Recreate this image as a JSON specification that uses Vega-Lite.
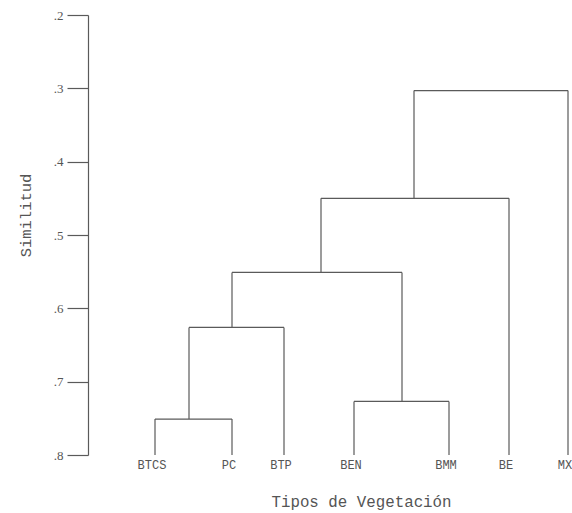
{
  "$schema": "https://vega.github.io/schema/vega-lite/v6.json",
  "width": 484,
  "height": 440,
  "autosize": {"type": "none"},
  "padding": {"left": 88, "top": 15, "right": 0, "bottom": 58},
  "background": "white",
  "config": {"view": {"stroke": null}},
  "datasets": {
    "nodes": [
      {"xl": 67, "hl": 0.8, "xr": 144, "hr": 0.8, "h": 0.751},
      {"xl": 266, "hl": 0.8, "xr": 361, "hr": 0.8, "h": 0.727},
      {"xl": 101, "hl": 0.751, "xr": 196, "hr": 0.8, "h": 0.626},
      {"xl": 144, "hl": 0.626, "xr": 314, "hr": 0.727, "h": 0.551},
      {"xl": 233, "hl": 0.551, "xr": 421, "hr": 0.8, "h": 0.45},
      {"xl": 326, "hl": 0.45, "xr": 480, "hr": 0.8, "h": 0.303}
    ],
    "leaves": [
      {"name": "BTCS", "x": 67, "h": 0.8},
      {"name": "PC", "x": 144, "h": 0.8},
      {"name": "BTP", "x": 196, "h": 0.8},
      {"name": "BEN", "x": 266, "h": 0.8},
      {"name": "BMM", "x": 361, "h": 0.8},
      {"name": "BE", "x": 421, "h": 0.8},
      {"name": "MX", "x": 480, "h": 0.8}
    ]
  },
  "layer": [
    {
      "data": {"name": "nodes"},
      "mark": {"type": "rule", "color": "#5a5a5a", "strokeWidth": 1.2},
      "encoding": {
        "x": {
          "field": "xl", "type": "quantitative",
          "scale": {"domain": [0, 484], "nice": false, "zero": false},
          "axis": {
            "domain": false, "ticks": false, "labels": false, "grid": false,
            "title": "Tipos de Vegetación",
            "titleFont": "Liberation Mono", "titleFontSize": 15.8, "titleFontWeight": "normal",
            "titleColor": "#555555", "titleAlign": "center", "titleAnchor": null,
            "titleX": 273, "titleY": 51, "titleBaseline": "alphabetic"
          }
        },
        "y": {
          "field": "hl", "type": "quantitative",
          "scale": {"domain": [0.2, 0.8], "reverse": true, "nice": false, "zero": false},
          "axis": {
            "values": [0.2, 0.3, 0.4, 0.5, 0.6, 0.7, 0.8],
            "labelExpr": "replace(format(datum.value, '.1f'), '0.', '.')",
            "grid": false,
            "domainColor": "#5a5a5a", "domainWidth": 1.2,
            "tickColor": "#5a5a5a", "tickSize": 21, "tickWidth": 1.2,
            "labelFont": "Liberation Serif", "labelFontSize": 13, "labelColor": "#555555",
            "labelPadding": 4,
            "title": "Similitud",
            "titleFont": "Liberation Mono", "titleFontSize": 15.5, "titleFontWeight": "normal",
            "titleColor": "#555555", "titleAngle": -90, "titleAlign": "center",
            "titleBaseline": "middle", "titleX": -63, "titleY": 200
          }
        },
        "y2": {"field": "h"}
      }
    },
    {
      "data": {"name": "nodes"},
      "mark": {"type": "rule", "color": "#5a5a5a", "strokeWidth": 1.2},
      "encoding": {
        "x": {"field": "xr", "type": "quantitative"},
        "y": {"field": "hr", "type": "quantitative"},
        "y2": {"field": "h"}
      }
    },
    {
      "data": {"name": "nodes"},
      "mark": {"type": "rule", "color": "#5a5a5a", "strokeWidth": 1.2},
      "encoding": {
        "x": {"field": "xl", "type": "quantitative"},
        "x2": {"field": "xr"},
        "y": {"field": "h", "type": "quantitative"}
      }
    },
    {
      "data": {"name": "leaves"},
      "mark": {"type": "text", "font": "Liberation Mono", "fontSize": 12, "color": "#555555", "align": "center", "baseline": "alphabetic", "dy": 14, "dx": -3},
      "encoding": {
        "x": {"field": "x", "type": "quantitative"},
        "y": {"field": "h", "type": "quantitative"},
        "text": {"field": "name"}
      }
    }
  ]
}
